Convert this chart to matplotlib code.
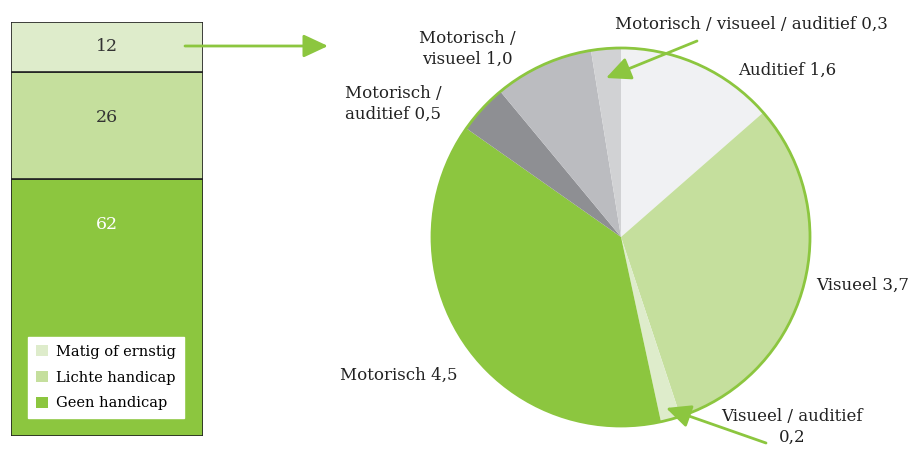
import numpy as np
from matplotlib import pyplot as plt
from matplotlib.patches import Circle

plt.rcParams['font.family'] = ['DejaVu Serif']

# left bar: share of people by severity of handicap (%)
barLabels = ['Geen handicap', 'Lichte handicap', 'Matig of ernstig']
barValues = [62, 26, 12]
barColors = ['#8cc63f', '#c5df9d', '#deeccb']
barTextColors = ['white', '#333333', '#333333']

# right pie: type of handicap within 'matig of ernstig'
pieLabels = ['Auditief', 'Visueel', 'Visueel / auditief', 'Motorisch',
             'Motorisch / auditief', 'Motorisch / visueel', 'Motorisch / visueel / auditief']
pieValues = [1.6, 3.7, 0.2, 4.5, 0.5, 1.0, 0.3]
pieColors = ['#f0f1f3', '#c5df9d', '#deeccb', '#8cc63f', '#8e8f93', '#bbbcc0', '#d1d2d4']

green = '#8cc63f'
W, H = 913, 449
fig = plt.figure(figsize=(W/100, H/100), dpi=100)

#---- stacked bar ----
axBar = fig.add_axes([11/W, 1-436/H, 192/W, 414/H])
bottom = 0
handles = []
for val, lab, col, tcol in zip(barValues, barLabels, barColors, barTextColors):
    b = axBar.bar(0, val, bottom=bottom, width=1, color=col, edgecolor='#222222', linewidth=1.2, label=lab)
    handles.append(b)
    # numbers sit in upper part of the segment
    ypos = bottom + val - min(val/2, 11)
    axBar.text(0, ypos, str(val), ha='center', va='center', fontsize=12.5, color=tcol)
    bottom += val
axBar.set_xlim(-0.5, 0.5)
axBar.set_ylim(0, 100)
axBar.axis('off')
leg = axBar.legend(handles[::-1], barLabels[::-1], loc='lower left', bbox_to_anchor=(0.088, 0.043),
                   frameon=True, fancybox=False, edgecolor='white', facecolor='white', framealpha=1,
                   fontsize=10.5, handlelength=0.8, handleheight=0.8, labelspacing=0.8, borderpad=0.55,
                   handletextpad=0.6, borderaxespad=0)
for h in leg.legend_handles:
    h.set_edgecolor('none')

#---- pie ----
cx, cy, r = 621, 237, 189
axPie = fig.add_axes([(cx-r)/W, (H-cy-r)/H, 2*r/W, 2*r/H])
axPie.pie(pieValues, colors=pieColors, startangle=90, counterclock=False, radius=1,
          wedgeprops=dict(linewidth=0))
axPie.add_patch(Circle((0, 0), 1, fill=False, edgecolor=green, linewidth=2, clip_on=False))
axPie.set_xlim(-1, 1)
axPie.set_ylim(-1, 1)
axPie.set_aspect('equal')
axPie.axis('off')

#---- overlay for labels and arrows, in pixels ----
ov = fig.add_axes([0, 0, 1, 1], zorder=5)
ov.set_xlim(0, W)
ov.set_ylim(H, 0)
ov.axis('off')

def fmt(v):
    return ('%.1f' % v).replace('.', ',')

fs = 12
tc = '#222222'
ov.text(615, 24, pieLabels[6] + ' ' + fmt(pieValues[6]), ha='left', va='center', fontsize=fs, color=tc)
ov.text(738, 70, pieLabels[0] + ' ' + fmt(pieValues[0]), ha='left', va='center', fontsize=fs, color=tc)
ov.text(816, 285, pieLabels[1] + ' ' + fmt(pieValues[1]), ha='left', va='center', fontsize=fs, color=tc)
ov.text(792, 427, 'Visueel / auditief\n' + fmt(pieValues[2]), ha='center', va='center', fontsize=fs,
        color=tc, linespacing=1.35)
ov.text(340, 375, pieLabels[3] + ' ' + fmt(pieValues[3]), ha='left', va='center', fontsize=fs, color=tc)
ov.text(393, 104, 'Motorisch /\nauditief ' + fmt(pieValues[4]), ha='center', va='center', fontsize=fs,
        color=tc, linespacing=1.35)
ov.text(467, 49, 'Motorisch /\nvisueel ' + fmt(pieValues[5]), ha='center', va='center', fontsize=fs,
        color=tc, linespacing=1.35)

arrow = dict(arrowstyle='-|>,head_length=1.5,head_width=0.7', color=green, linewidth=2, shrinkA=0, shrinkB=0)
ov.annotate('', xy=(328, 46), xytext=(185, 46), arrowprops=arrow)
ov.annotate('', xy=(606, 78), xytext=(697, 41), arrowprops=arrow)
ov.annotate('', xy=(666, 408), xytext=(766, 443), arrowprops=arrow)

fig.savefig('out.png', dpi=100)
